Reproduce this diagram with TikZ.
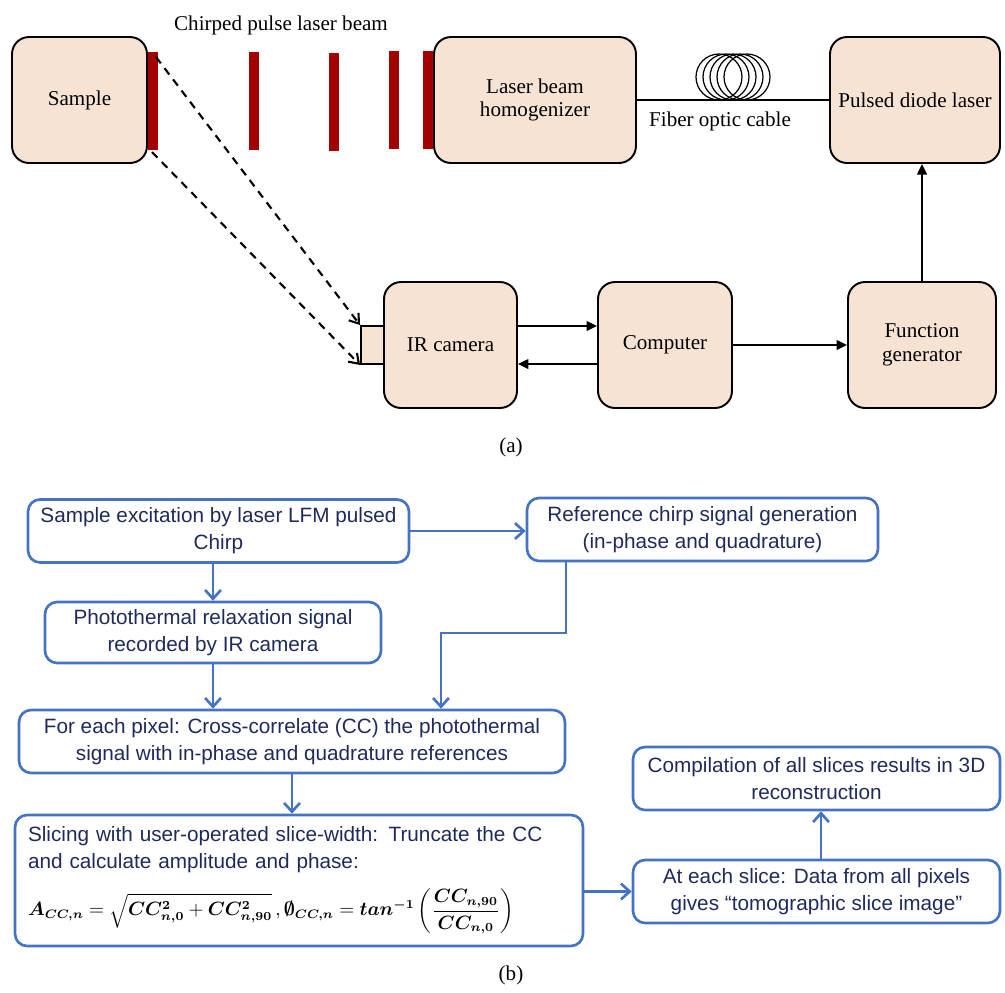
\documentclass[tikz,border=0pt]{standalone}
\usepackage{amsmath,amssymb,bm}
\usepackage{fontspec}
\setmainfont{Liberation Serif}
\newfontfamily\flowfont{Liberation Sans}
\usetikzlibrary{arrows.meta}

\definecolor{boxfill}{HTML}{F7E3D4}
\definecolor{pulsered}{HTML}{A50000}
\definecolor{flowblue}{HTML}{4472C4}
\definecolor{flowtext}{HTML}{1F2A5C}

\begin{document}
\begin{tikzpicture}[x=0.02cm, y=-0.02cm,
    font=\fontsize{12}{13.6}\selectfont,
    device/.style={draw, line width=1.1pt, fill=boxfill, rounded corners=0.34cm,
        minimum height=2.52cm, align=center},
    sig/.style={line width=1.1pt, -{Triangle[length=6pt,width=5.5pt]}},
    beam/.style={line width=1.2pt, dash pattern=on 4.5pt off 3.5pt,
        -{Straight Barb[length=5pt,width=7pt]}},
    flowbox/.style={draw=flowblue, line width=1.5pt, rounded corners=0.24cm,
        minimum height=1.26cm, align=center, text=flowtext,
        font=\flowfont\fontsize{11.8}{15.3}\selectfont},
    flow/.style={draw=flowblue, line width=1.5pt,
        -{Straight Barb[length=5pt,width=9pt]}}]
    \useasboundingbox (0,0) rectangle (1005,992);

    % (a) experimental set-up
    \node[device, minimum width=2.70cm] (sample) at (79.5,100) {Sample};
    \node[device, minimum width=4.04cm] (homog) at (535,100) {Laser beam\\homogenizer};
    \node[device, minimum width=3.40cm] (diode) at (915,100) {Pulsed diode laser};
    \node[device, minimum width=2.66cm] (ircam) at (450.5,345) {IR camera};
    \node[device, minimum width=2.68cm] (computer) at (665,345) {Computer};
    \node[device, minimum width=2.96cm] (funcgen) at (922,345) {Function\\generator};
    \node[draw, line width=1.1pt, fill=boxfill, minimum width=0.46cm,
        minimum height=0.76cm, inner sep=0pt] (lens) at (372.5,345) {};

    % chirped pulses
    \foreach \x/\y in {148/52, 249/52, 329/53, 389/51, 423/51}
        \fill[pulsered] (\x,\y) rectangle ++(10,98);
    \node (beamlabel) at (281,25) {Chirped pulse laser beam};

    % fiber optic cable
    \draw[line width=1.1pt] (homog.east) -- (diode.west);
    \foreach \i in {0,...,4}
        \draw[line width=0.7pt] (719+7*\i,77) circle[radius=0.46cm];
    \node (fiberlabel) at (720,121) {Fiber optic cable};

    % signal connections
    \draw[sig] ([yshift=0.38cm]ircam.east) -- ([yshift=0.38cm]computer.west);
    \draw[sig] ([yshift=-0.38cm]computer.west) -- ([yshift=-0.38cm]ircam.east);
    \draw[sig] (computer) -- (funcgen);
    \draw[sig] (funcgen.north) -- (funcgen.north |- diode.south);

    % reflected thermal radiation
    \coordinate (reflA) at (156,57);
    \coordinate (reflB) at (152,152);
    \draw[beam] (reflA) -- (lens.north west);
    \draw[beam] (reflB) -- (lens.south west);

    \node (capa) at (511,447) {(a)};

    % (b) processing flow chart
    \node[flowbox, minimum width=7.62cm] (excite) at (218.5,531)
        {Sample excitation by laser LFM pulsed\\Chirp};
    \node[flowbox, minimum width=7.02cm] (refgen) at (702.5,529.5)
        {Reference chirp signal generation\\(in-phase and quadrature)};
    \node[flowbox, minimum width=6.72cm, minimum height=1.22cm] (relax) at (213,632.5)
        {Photothermal relaxation signal\\recorded by IR camera};
    \node[flowbox, minimum width=10.92cm] (xcorr) at (292,741.5)
        {For each pixel: Cross-correlate (CC) the photothermal\\signal with in-phase and quadrature references};
    \node[flowbox, minimum height=2.62cm, align=left, text width=10.84cm,
        inner xsep=0.26cm] (slicing) at (299,880.5)
        {Slicing with user-operated slice-width: Truncate the CC\\
         and calculate amplitude and phase:\\[8pt]
         {\color{black}\fontsize{10.6}{12}\selectfont
         $\bm{A_{CC,n}} = \sqrt{\bm{CC^{2}_{n,0}} + \bm{CC^{2}_{n,90}}}\,,
         \bm{\emptyset_{CC,n}} = \bm{tan^{-1}}\left(\dfrac{\bm{CC_{n,90}}}{\bm{CC_{n,0}}}\right)$}};
    \node[flowbox, minimum width=7.34cm] (sliceimg) at (816.5,891.5)
        {At each slice: Data from all pixels\\gives “tomographic slice image”};
    \node[flowbox, minimum width=7.34cm] (compile) at (816.5,778.5)
        {Compilation of all slices results in 3D\\reconstruction};

    \draw[flow] (excite.east) -- (excite.east -| refgen.west);
    \draw[flow] (relax.north |- excite.south) -- (relax.north);
    \draw[flow] (relax.south) -- (relax.south |- xcorr.north);
    \coordinate (bendA) at (566,633);
    \coordinate (bendB) at (441,633);
    \draw[flow] (refgen.south -| bendA) -- (bendA) -- (bendB) -- (bendB |- xcorr.north);
    \draw[flow] (xcorr.south) -- (xcorr.south |- slicing.north);
    \draw[flow] (slicing.east |- sliceimg.west) -- (sliceimg.west);
    \draw[flow] ([xshift=0.09cm]sliceimg.north) -- ([xshift=0.09cm]sliceimg.north |- compile.south);

    \node (capb) at (511,975) {(b)};
\end{tikzpicture}
\end{document}
